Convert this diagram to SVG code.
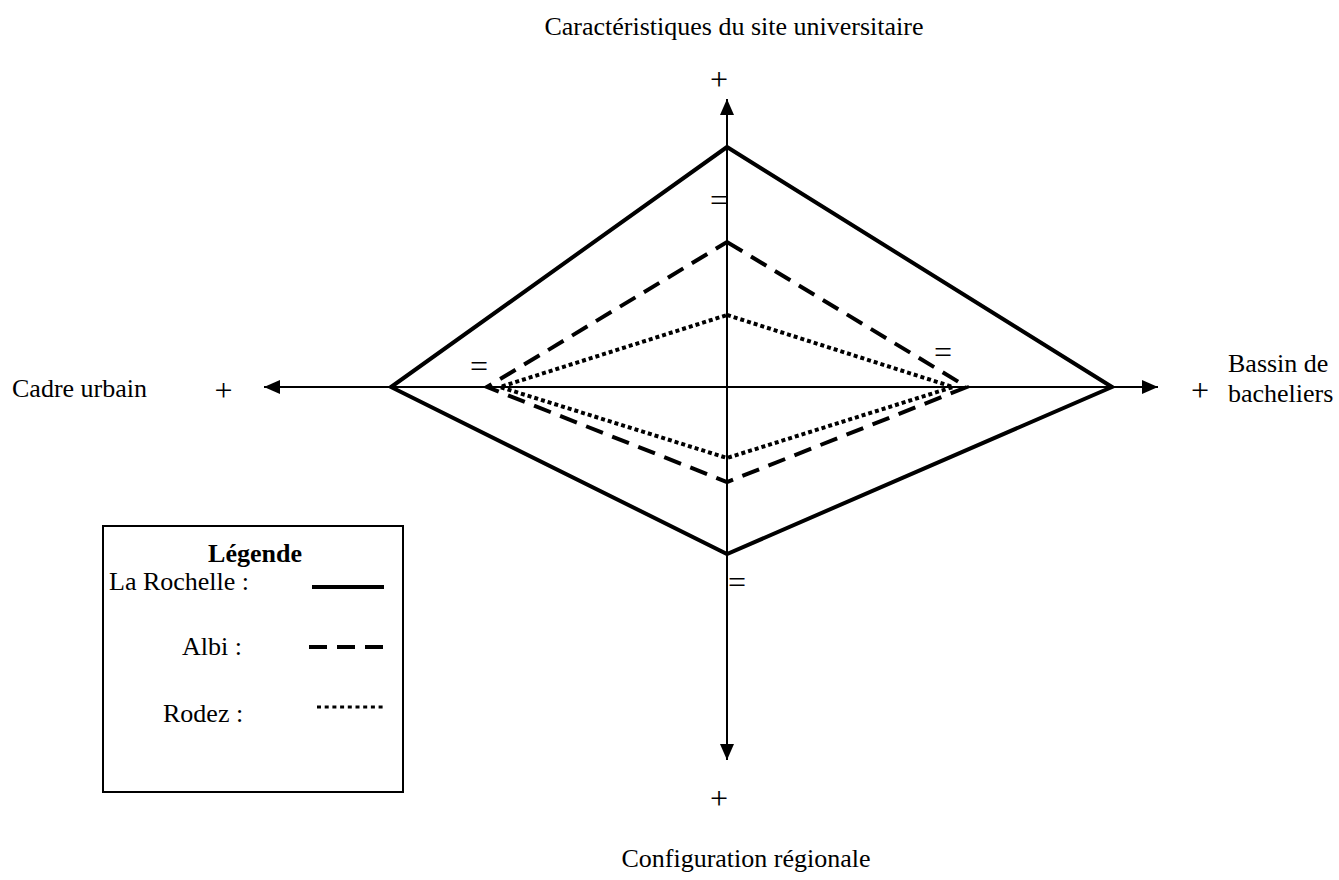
<svg xmlns="http://www.w3.org/2000/svg" width="1339" height="880" viewBox="0 0 1339 880">
<style>
text{font-family:"Liberation Serif","Times New Roman",serif;font-size:26px;fill:#000}
text.sign{font-size:32px}
.axis{stroke:#000;stroke-width:2;fill:none}
.lr{stroke:#000;stroke-width:4;fill:none;stroke-linejoin:miter}
.albi{stroke:#000;stroke-width:4;fill:none;stroke-dasharray:18 10}
.rodez{stroke:#000;stroke-width:4;fill:none;stroke-dasharray:4 3}
</style>
<defs>
<marker id="arr" markerUnits="userSpaceOnUse" markerWidth="16" markerHeight="16" viewBox="0 0 16 16" refX="16" refY="8" orient="auto">
<polygon points="0,1 16,8 0,15" fill="#000"/>
</marker>
</defs>
<rect width="1339" height="880" fill="#fff"/>
<g id="connectors">
<line class="axis" x1="727" y1="387" x2="727" y2="99" marker-end="url(#arr)"/>
<line class="axis" x1="727" y1="387" x2="727" y2="760" marker-end="url(#arr)"/>
<line class="axis" x1="727" y1="387" x2="264" y2="387" marker-end="url(#arr)"/>
<line class="axis" x1="727" y1="387" x2="1158" y2="387" marker-end="url(#arr)"/>
</g>
<g id="la-rochelle"><polygon class="lr" points="727,147 1112,387 727,554 391,387"/></g>
<g id="albi"><polygon class="albi" points="727,242 967,387 727,482 487,387"/></g>
<g id="rodez"><polygon class="rodez" points="727,315 953,387 727,458 500,387"/></g>
<g id="labels">
<text x="734" y="35" text-anchor="middle">Caractéristiques du site universitaire</text>
<text x="12" y="397">Cadre urbain</text>
<text x="746" y="867" text-anchor="middle">Configuration régionale</text>
<text x="1228" y="372">Bassin de</text>
<text x="1228" y="402">bacheliers</text>
<text class="sign" x="719" y="90" text-anchor="middle">+</text>
<text class="sign" x="223.5" y="401" text-anchor="middle">+</text>
<text class="sign" x="1200" y="401" text-anchor="middle">+</text>
<text class="sign" x="719" y="809" text-anchor="middle">+</text>
<text class="sign" x="719" y="210.5" text-anchor="middle">=</text>
<text class="sign" x="479" y="377" text-anchor="middle">=</text>
<text class="sign" x="943" y="362.5" text-anchor="middle">=</text>
<text class="sign" x="737" y="592.5" text-anchor="middle">=</text>
</g>
<g id="legend">
<rect x="103" y="526" width="300" height="266" fill="none" stroke="#000" stroke-width="2"/>
<text x="255" y="562" text-anchor="middle" font-weight="bold">Légende</text>
<text x="109" y="590">La Rochelle :</text>
<line x1="312" y1="587" x2="384" y2="587" stroke="#000" stroke-width="4"/>
<text x="182" y="655">Albi :</text>
<line x1="309" y1="647" x2="383" y2="647" stroke="#000" stroke-width="4" stroke-dasharray="18 10"/>
<text x="163" y="722">Rodez :</text>
<line x1="317" y1="707" x2="386" y2="707" stroke="#000" stroke-width="3" stroke-dasharray="4 3.7"/>
</g>
</svg>
